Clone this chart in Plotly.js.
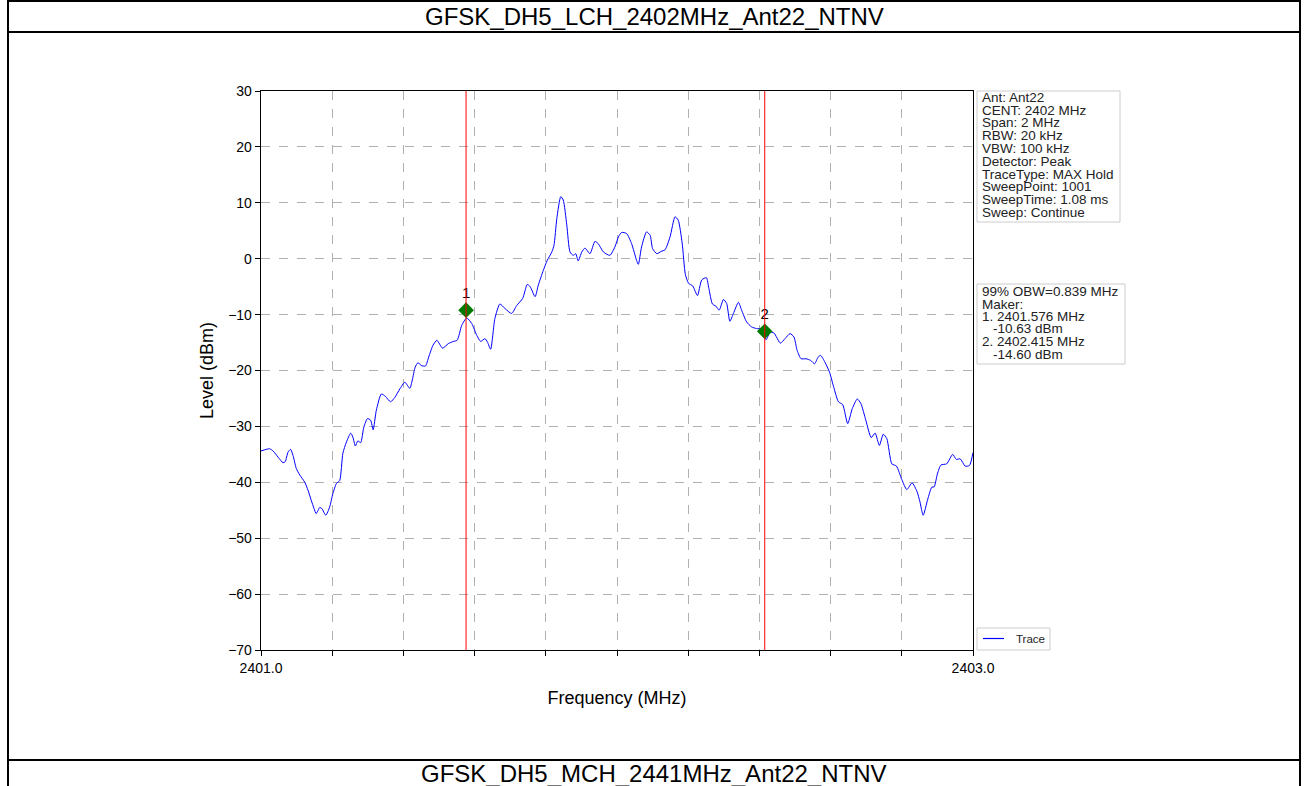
<!DOCTYPE html>
<html>
<head>
<meta charset="utf-8">
<script src="https://cdn.plot.ly/plotly-3.0.1.min.js"></script>
<style>html,body{margin:0;padding:0;background:#fff;}#chart{width:1308px;height:786px;}</style>
</head>
<body>
<div id="chart"></div>
<script>
// ---------- data ----------
const pageTitle = 'GFSK_DH5_LCH_2402MHz_Ant22_NTNV';
const nextTitle = 'GFSK_DH5_MCH_2441MHz_Ant22_NTNV';
const xTitle = 'Frequency (MHz)';
const yTitle = 'Level (dBm)';
const traceName = 'Trace';

const freq = [
2401.000,2401.024,2401.034,2401.048,2401.062,2401.068,2401.076,2401.083,2401.090,2401.099,
2401.109,2401.123,2401.132,2401.141,2401.149,2401.155,2401.165,2401.171,2401.182,2401.193,
2401.202,2401.212,2401.221,2401.230,2401.240,2401.252,2401.258,2401.265,2401.272,2401.280,
2401.289,2401.299,2401.308,2401.315,2401.324,2401.338,2401.349,2401.364,2401.376,2401.390,
2401.404,2401.418,2401.425,2401.433,2401.441,2401.450,2401.462,2401.471,2401.483,2401.494,
2401.510,2401.526,2401.540,2401.551,2401.564,2401.578,2401.592,2401.606,2401.617,2401.629,
2401.636,2401.645,2401.657,2401.671,2401.685,2401.704,2401.718,2401.735,2401.748,2401.756,
2401.770,2401.779,2401.793,2401.804,2401.817,2401.823,2401.831,2401.842,2401.849,2401.859,
2401.868,2401.877,2401.884,2401.891,2401.901,2401.910,2401.924,2401.938,2401.947,2401.962,
2401.980,2401.994,2402.004,2402.013,2402.027,2402.041,2402.055,2402.060,2402.069,2402.083,
2402.093,2402.100,2402.112,2402.124,2402.135,2402.149,2402.163,2402.172,2402.183,2402.192,
2402.201,2402.213,2402.226,2402.238,2402.251,2402.258,2402.268,2402.278,2402.287,2402.299,
2402.308,2402.317,2402.327,2402.341,2402.350,2402.364,2402.378,2402.392,2402.406,2402.419,
2402.430,2402.441,2402.459,2402.472,2402.486,2402.497,2402.506,2402.517,2402.531,2402.544,
2402.555,2402.565,2402.572,2402.584,2402.597,2402.608,2402.622,2402.634,2402.648,2402.661,
2402.675,2402.685,2402.699,2402.714,2402.725,2402.737,2402.748,2402.758,2402.772,2402.785,
2402.800,2402.814,2402.829,2402.843,2402.851,2402.860,2402.873,2402.884,2402.891,2402.900,
2402.910,2402.926,2402.943,2402.953,2402.964,2402.978,2402.990,2403.000
];
const level = [
-34.4,-34.0,-34.4,-35.5,-36.5,-36.3,-34.6,-34.1,-35.2,-37.5,
-38.7,-40.0,-41.4,-43.2,-44.7,-45.6,-44.5,-44.7,-45.9,-44.4,
-42.0,-40.2,-39.7,-34.8,-32.8,-31.2,-31.9,-33.5,-32.6,-32.9,
-30.1,-28.6,-28.9,-30.6,-27.1,-24.2,-24.6,-25.6,-24.8,-23.3,
-22.1,-23.2,-21.7,-19.4,-18.6,-19.1,-19.2,-17.6,-15.5,-14.6,
-16.0,-15.2,-14.8,-14.6,-11.9,-10.6,-11.6,-13.7,-14.8,-14.3,
-14.9,-16.2,-10.7,-8.1,-8.9,-9.8,-8.4,-7.1,-4.6,-5.0,
-6.8,-4.7,-2.1,-0.3,1.2,2.4,7.2,11.1,10.5,6.0,
1.2,0.6,0.9,-0.4,1.2,1.9,0.9,3.1,2.7,1.2,
0.6,2.1,3.9,4.7,4.5,2.7,-0.3,-1.0,2.1,4.8,
4.2,1.8,0.9,1.3,1.6,3.9,7.5,6.9,2.8,-2.8,
-4.4,-4.9,-6.6,-3.8,-3.4,-5.3,-8.1,-8.5,-9.2,-7.3,
-8.0,-11.2,-9.8,-7.8,-9.2,-11.3,-12.2,-12.5,-12.6,-14.5,
-13.1,-13.3,-15.1,-14.3,-13.4,-14.0,-16.4,-17.9,-17.9,-18.2,
-18.8,-17.6,-17.3,-18.5,-20.3,-22.8,-25.6,-26.1,-29.5,-26.8,
-25.1,-25.9,-28.9,-32.0,-31.2,-33.4,-31.4,-32.2,-36.7,-37.1,
-39.5,-41.3,-40.1,-41.7,-43.5,-45.9,-43.0,-40.9,-40.8,-38.5,
-36.9,-36.7,-35.0,-35.9,-35.8,-37.1,-37.0,-34.7
];

// OBW markers
const markerLabels = ['1', '2'];
const markerFreq = [2401.576, 2402.415];
const markerLevel = [-10.63, -14.60];        // values reported in the text box
const markerShownLevel = [-9.2, -13.0];      // where the diamonds are drawn in the picture
const obwText = '99% OBW=0.839 MHz';

const infoLines = ['Ant: Ant22', 'CENT: 2402 MHz', 'Span: 2 MHz', 'RBW: 20 kHz', 'VBW: 100 kHz',
  'Detector: Peak', 'TraceType: MAX Hold', 'SweepPoint: 1001', 'SweepTime: 1.08 ms', 'Sweep: Continue'];

const xMin = 2401.0, xMax = 2403.0, xStep = 0.2;
const xEndLabels = ['2401.0', '2403.0'];
const yMin = -70, yMax = 30, yStep = 10;

// ---------- layout helpers (pixel -> paper) ----------
const W = 1308, H = 786;
const px = v => v / W;
const py = v => 1 - v / H;
const FONT = 'Liberation Sans, Arial, sans-serif';

const xTickVals = [];
const xTickText = [];
for (let i = 0; i <= Math.round((xMax - xMin) / xStep); i++) {
  const v = +(xMin + i * xStep).toFixed(1);
  xTickVals.push(v);
  xTickText.push(i === 0 ? xEndLabels[0] : (v === xMax ? xEndLabels[1] : ''));
}

const traces = [
  {
    x: freq, y: level, type: 'scatter', mode: 'lines', name: traceName,
    line: {color: '#0000ff', width: 1, shape: 'spline', smoothing: 0.6},
    showlegend: false, hoverinfo: 'x+y'
  },
  {
    x: markerFreq, y: markerShownLevel, type: 'scatter', mode: 'markers+text',
    text: markerLabels, textposition: 'top center',
    textfont: {family: FONT, size: 15, color: '#000'},
    marker: {symbol: 'diamond', size: 12, color: '#007a00', line: {width: 0}},
    showlegend: false, hoverinfo: 'x+y'
  }
];

const shapes = [];
// outer page frame
const frameLine = {color: '#000', width: 2};
shapes.push({type: 'line', xref: 'paper', yref: 'paper', x0: px(8), x1: px(1300), y0: py(1), y1: py(1), line: frameLine});
shapes.push({type: 'line', xref: 'paper', yref: 'paper', x0: px(8), x1: px(1300), y0: py(32), y1: py(32), line: frameLine});
shapes.push({type: 'line', xref: 'paper', yref: 'paper', x0: px(8), x1: px(1300), y0: py(760), y1: py(760), line: frameLine});
shapes.push({type: 'line', xref: 'paper', yref: 'paper', x0: px(8), x1: px(8), y0: 0, y1: 1, line: frameLine});
shapes.push({type: 'line', xref: 'paper', yref: 'paper', x0: px(1300), x1: px(1300), y0: 0, y1: 1, line: frameLine});
// OBW red lines
markerFreq.forEach(f => {
  shapes.push({type: 'line', xref: 'x', yref: 'y', x0: f, x1: f, y0: yMin, y1: yMax,
    line: {color: '#ff0000', width: 1}, layer: 'above'});
});
// info boxes
const boxLine = {color: '#cccccc', width: 1};
shapes.push({type: 'rect', xref: 'paper', yref: 'paper', x0: px(977), x1: px(1120), y0: py(91), y1: py(222), line: boxLine, fillcolor: 'rgba(255,255,255,0.8)'});
shapes.push({type: 'rect', xref: 'paper', yref: 'paper', x0: px(977), x1: px(1125), y0: py(284), y1: py(364), line: boxLine, fillcolor: 'rgba(255,255,255,0.8)'});
// legend box
shapes.push({type: 'rect', xref: 'paper', yref: 'paper', x0: px(977), x1: px(1050), y0: py(628), y1: py(650), line: boxLine, fillcolor: 'rgba(255,255,255,0.8)'});
shapes.push({type: 'line', xref: 'paper', yref: 'paper', x0: px(983), x1: px(1004), y0: py(638.5), y1: py(638.5), line: {color: '#0000ff', width: 1.2}});

const annotations = [];
annotations.push({xref: 'paper', yref: 'paper', x: 0.5, y: py(17), text: pageTitle, showarrow: false,
  xanchor: 'center', yanchor: 'middle', font: {family: FONT, size: 24, color: '#000'}});
annotations.push({xref: 'paper', yref: 'paper', x: 0.5, y: py(773), text: nextTitle, showarrow: false,
  xanchor: 'center', yanchor: 'middle', font: {family: FONT, size: 24, color: '#000'}});

const boxFont = {family: FONT, size: 13.5, color: '#222'};
infoLines.forEach((t, i) => {
  annotations.push({xref: 'paper', yref: 'paper', x: px(980), y: py(97.5 + i * 12.75), text: t,
    showarrow: false, xanchor: 'left', yanchor: 'middle', font: boxFont});
});
const obwLines = [obwText, 'Maker:'];
markerFreq.forEach((f, i) => {
  obwLines.push((i + 1) + '. ' + f.toFixed(3) + ' MHz');
  obwLines.push('    ' + markerLevel[i].toFixed(2) + ' dBm');
});
obwLines.forEach((t, i) => {
  const indented = t.startsWith('    ');
  annotations.push({xref: 'paper', yref: 'paper', x: px(indented ? 991 : 980), y: py(291.5 + i * 12.5),
    text: t.trim(), showarrow: false, xanchor: 'left', yanchor: 'middle', font: boxFont});
});
annotations.push({xref: 'paper', yref: 'paper', x: px(1014), y: py(639), text: traceName,
  showarrow: false, xanchor: 'left', yanchor: 'middle', font: {family: FONT, size: 11.5, color: '#222'}});

const layout = {
  width: W, height: H,
  margin: {l: 0, r: 0, t: 0, b: 0},
  paper_bgcolor: '#fff', plot_bgcolor: '#fff',
  showlegend: false,
  font: {family: FONT, color: '#000'},
  xaxis: {
    domain: [px(261), px(973)], range: [xMin, xMax],
    tickmode: 'array', tickvals: xTickVals, ticktext: xTickText,
    ticks: 'outside', ticklen: 5, tickwidth: 1, tickcolor: '#000',
    tickfont: {family: FONT, size: 14, color: '#000'},
    showgrid: true, gridcolor: '#b0b0b0', griddash: 'dash', gridwidth: 1,
    zeroline: false, showline: true, linecolor: '#000', linewidth: 1.3, mirror: true,
    title: {text: xTitle, font: {family: FONT, size: 18, color: '#000'}, standoff: 16}
  },
  yaxis: {
    domain: [py(650), py(91)], range: [yMin, yMax], dtick: yStep, tick0: 0,
    ticks: 'outside', ticklen: 5, tickwidth: 1, tickcolor: '#000',
    tickfont: {family: FONT, size: 14, color: '#000'},
    showgrid: true, gridcolor: '#b0b0b0', griddash: 'dash', gridwidth: 1,
    zeroline: false, showline: true, linecolor: '#000', linewidth: 1.3, mirror: true,
    title: {text: yTitle, font: {family: FONT, size: 18, color: '#000'}, standoff: 10}
  },
  shapes: shapes,
  annotations: annotations
};

Plotly.newPlot('chart', traces, layout, {displayModeBar: false, staticPlot: true});
</script>
</body>
</html>
